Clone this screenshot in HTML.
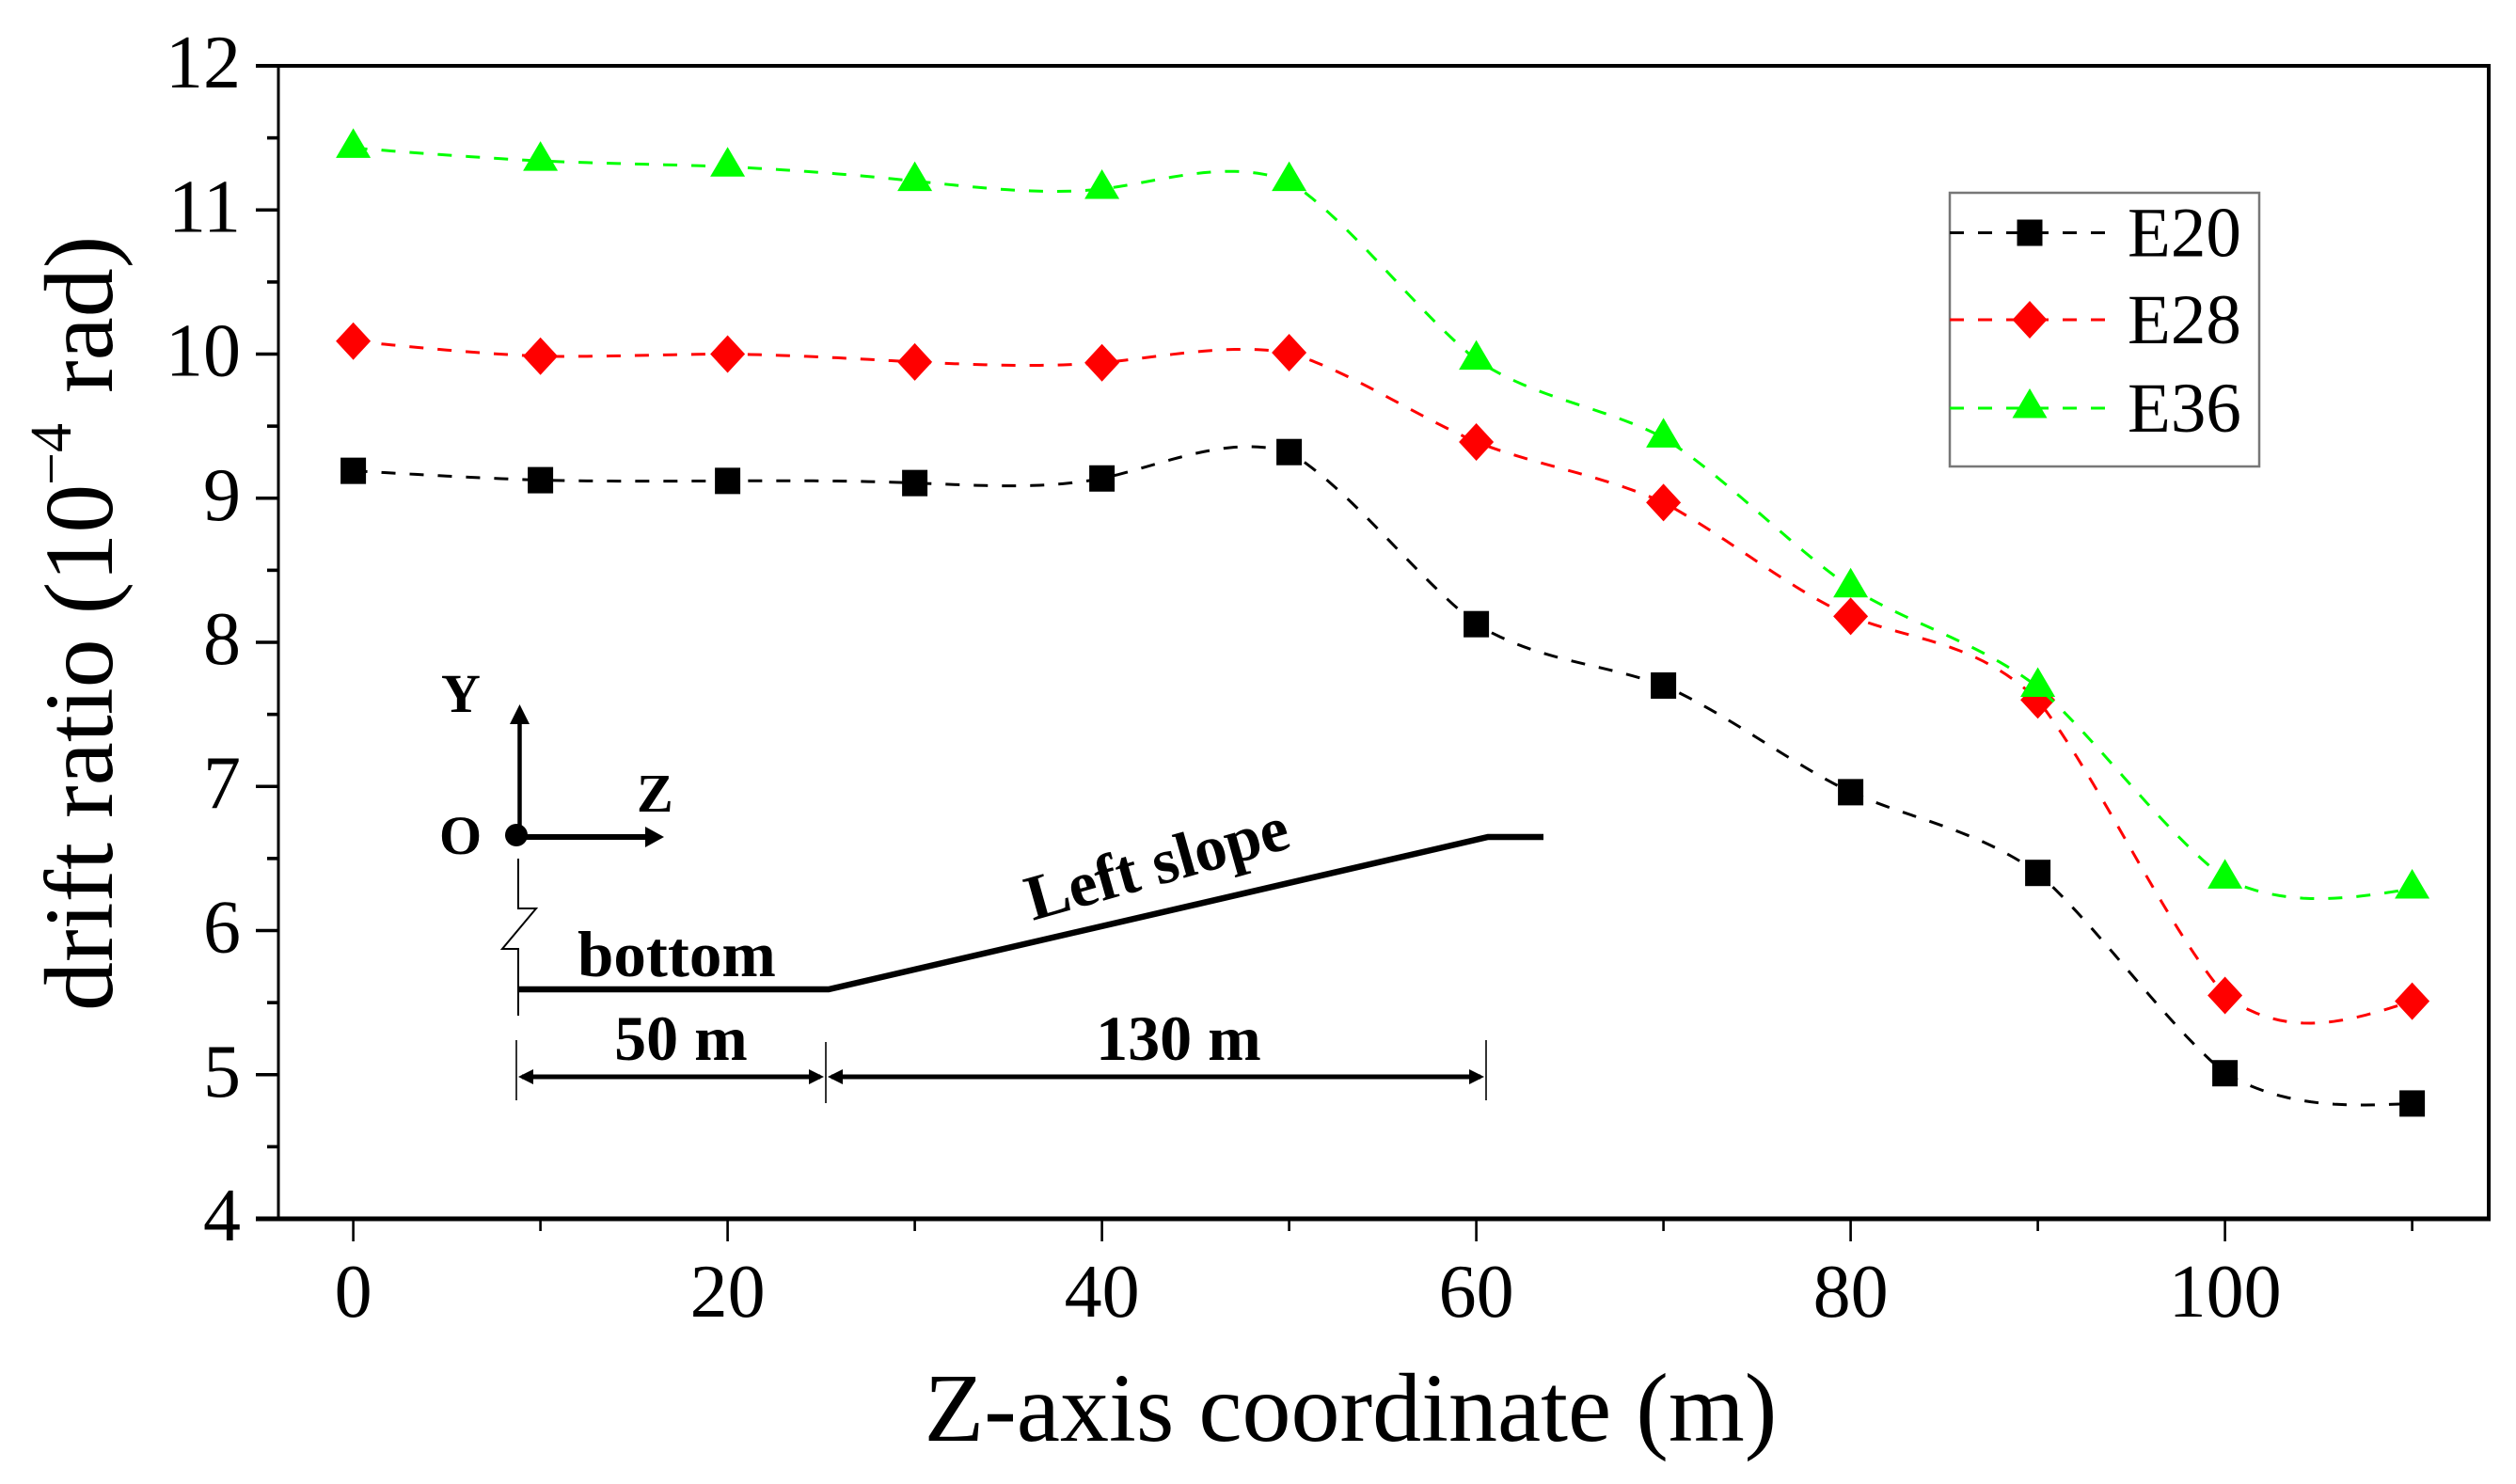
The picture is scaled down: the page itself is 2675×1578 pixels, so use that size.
<!DOCTYPE html>
<html lang="en">
<head>
<meta charset="utf-8">
<title>Drift ratio vs Z-axis coordinate</title>
<style>
html,body{margin:0;padding:0;background:#fff;}
#chart{display:block;width:2675px;height:1578px;font-family:"Liberation Serif",serif;}
</style>
</head>
<body>
<svg id="chart" xmlns="http://www.w3.org/2000/svg" width="2675" height="1578" viewBox="0 0 2675 1578">
  <rect x="0" y="0" width="2675" height="1578" fill="#fff"/>

  <text transform="translate(119,0) rotate(-90)" font-size="104" fill="#000"><tspan x="-1075" y="0">drift ratio (10</tspan><tspan x="-516" y="-44" font-size="62">−4</tspan><tspan x="-418" y="0">rad)</tspan></text>
  <text x="1436" y="1532" font-size="104" text-anchor="middle" fill="#000">Z-axis coordinate (m)</text>

  <g id="series-layer"></g>

  <g fill="#000" stroke="none" font-weight="bold">
    <line x1="552.5" y1="890" x2="552.5" y2="765" stroke="#000" stroke-width="4.5"/>
    <polygon points="552.5,749 542,770 563,770"/>
    <line x1="555" y1="890" x2="690" y2="890" stroke="#000" stroke-width="6"/>
    <polygon points="706,890 686,879 686,901"/>
    <circle cx="549" cy="888" r="12"/>
    <text x="469" y="757" font-size="58">Y</text>
    <text x="677" y="863" font-size="58">Z</text>
    <text x="467" y="908" font-size="58">O</text>
    <polyline points="551,913 551,966 570,966 534,1009 551,1009 551,1080" fill="none" stroke="#000" stroke-width="2"/>
    <polyline points="551,1052 881,1052 1582,890 1641,890" fill="none" stroke="#000" stroke-width="6.5"/>
    <text x="614" y="1038" font-size="69">bottom</text>
    <text transform="translate(1098,979) rotate(-15.8)" font-size="68.5">Left slope</text>
    <text x="724" y="1127" font-size="68" text-anchor="middle">50 m</text>
    <text x="1253" y="1127" font-size="68" text-anchor="middle">130 m</text>
    <line x1="549" y1="1106" x2="549" y2="1170" stroke="#000" stroke-width="1.6"/>
    <line x1="878" y1="1108" x2="878" y2="1173" stroke="#000" stroke-width="1.6"/>
    <line x1="1580" y1="1106" x2="1580" y2="1170" stroke="#000" stroke-width="1.6"/>
    <line x1="555" y1="1145" x2="872" y2="1145" stroke="#000" stroke-width="5"/>
    <line x1="884" y1="1145" x2="1574" y2="1145" stroke="#000" stroke-width="5"/>
    <polygon points="551,1145 567,1137 567,1153"/>
    <polygon points="876,1145 860,1137 860,1153"/>
    <polygon points="880,1145 896,1137 896,1153"/>
    <polygon points="1578,1145 1562,1137 1562,1153"/>
  </g>

  <g id="axes-layer"></g>

  <g id="legend">
    <rect x="2073" y="205" width="329" height="291" fill="#fff" stroke="#777" stroke-width="2.5"/>
  </g>
</svg>
<script>
// ---- chart data ----
const zCoordinates = [0, 10, 20, 30, 40, 50, 60, 70, 80, 90, 100, 110];
const e20Values = [9.19, 9.125, 9.12, 9.105, 9.137, 9.32, 8.126, 7.70, 6.96, 6.40, 5.01, 4.80];
const e28Values = [10.09, 9.985, 10.0, 9.945, 9.94, 10.01, 9.39, 8.97, 8.18, 7.60, 5.55, 5.51];
const e36Values = [11.43, 11.34, 11.30, 11.20, 11.145, 11.20, 9.96, 9.42, 8.38, 7.69, 6.36, 6.29];
const xMajorTicks = [0, 20, 40, 60, 80, 100];
const xMinorTicks = [10, 30, 50, 70, 90, 110];
const yMajorTicks = [4, 5, 6, 7, 8, 9, 10, 11, 12];
const yMinorTicks = [4.5, 5.5, 6.5, 7.5, 8.5, 9.5, 10.5, 11.5];
const seriesNames = ['E20', 'E28', 'E36'];

// ---- scales ----
const SVG_NS = 'http://www.w3.org/2000/svg';
const plotLeft = 296, plotRight = 2646, plotTop = 70, plotBottom = 1296;
const curveTension = 0.7;
function xScale(v) { return 375.6 + v * 19.9; }
function yScale(v) { return plotBottom - (v - 4) * (plotBottom - plotTop) / 8; }

function make(tag, parent, attrs, text) {
  const el = document.createElementNS(SVG_NS, tag);
  for (const k in attrs) el.setAttribute(k, attrs[k]);
  if (text !== undefined) el.textContent = text;
  parent.appendChild(el);
  return el;
}

// cubic spline with damped curvature through the data, sampled for the path
function splinePath(xs, ys) {
  const n = xs.length, h = [], a = [], b = [], c = [], d = [], m = new Array(n).fill(0);
  for (let i = 0; i < n - 1; i++) h[i] = xs[i + 1] - xs[i];
  a[0] = 0; b[0] = 1; c[0] = 0; d[0] = 0;
  for (let i = 1; i < n - 1; i++) {
    a[i] = h[i - 1]; b[i] = 2 * (h[i - 1] + h[i]); c[i] = h[i];
    d[i] = 6 * ((ys[i + 1] - ys[i]) / h[i] - (ys[i] - ys[i - 1]) / h[i - 1]);
  }
  a[n - 1] = 0; b[n - 1] = 1; d[n - 1] = 0;
  for (let i = 1; i < n; i++) {
    const w = a[i] / b[i - 1];
    b[i] -= w * (c[i - 1] || 0);
    d[i] -= w * d[i - 1];
  }
  m[n - 1] = d[n - 1] / b[n - 1];
  for (let i = n - 2; i >= 0; i--) m[i] = (d[i] - (c[i] || 0) * m[i + 1]) / b[i];
  let path = 'M' + xs[0].toFixed(2) + ' ' + ys[0].toFixed(2);
  for (let i = 0; i < n - 1; i++) {
    for (let s = 1; s <= 24; s++) {
      const t = s / 24, A = 1 - t, B = t;
      const x = xs[i] + t * h[i];
      const y = A * ys[i] + B * ys[i + 1] +
        curveTension * ((A * A * A - A) * m[i] + (B * B * B - B) * m[i + 1]) * h[i] * h[i] / 6;
      path += 'L' + x.toFixed(2) + ' ' + y.toFixed(2);
    }
  }
  return path;
}

function drawMarker(parent, kind, cx, cy, color) {
  if (kind === 'E20') {
    return make('rect', parent, { x: cx - 13.5, y: cy - 14, width: 27, height: 28, fill: color });
  }
  if (kind === 'E28') {
    return make('polygon', parent, { points: (cx - 18.5) + ',' + cy + ' ' + cx + ',' + (cy - 20) + ' ' + (cx + 18.5) + ',' + cy + ' ' + cx + ',' + (cy + 20), fill: color });
  }
  return make('polygon', parent, { points: cx + ',' + (cy - 21) + ' ' + (cx + 18.5) + ',' + (cy + 10.5) + ' ' + (cx - 18.5) + ',' + (cy + 10.5), fill: color });
}

// ---- series ----
const seriesLayer = document.getElementById('series-layer');
const seriesColors = { E20: '#000000', E28: '#ff0000', E36: '#00ff00' };
const seriesValues = { E20: e20Values, E28: e28Values, E36: e36Values };

seriesNames.forEach(function (name) {
  const values = seriesValues[name];
  const color = seriesColors[name];
  const group = make('g', seriesLayer, {});
  
  
  const line = make('path', group, {
    d: splinePath(zCoordinates.map(xScale), values.map(yScale)),
    fill: 'none', stroke: color, 'stroke-width': 3, 'stroke-dasharray': '15 15'
  });
  
  
  values.forEach(function (v, i) {
    const mark = drawMarker(group, name, xScale(zCoordinates[i]), yScale(v), color);
    
    
  });
});

// ---- axes ----
const axesLayer = document.getElementById('axes-layer');
const frameLeft = make('line', axesLayer, { x1: plotLeft, y1: plotTop, x2: plotLeft, y2: plotBottom, stroke: '#000', 'stroke-width': 3 });


const frameBottom = make('line', axesLayer, { x1: 272, y1: plotBottom, x2: plotRight + 2, y2: plotBottom, stroke: '#000', 'stroke-width': 5 });


const frameTop = make('line', axesLayer, { x1: 272, y1: plotTop, x2: plotRight + 2, y2: plotTop, stroke: '#000', 'stroke-width': 4 });


const frameRight = make('line', axesLayer, { x1: plotRight, y1: plotTop, x2: plotRight, y2: plotBottom, stroke: '#000', 'stroke-width': 4 });



xMajorTicks.forEach(function (v) {
  const tick = make('line', axesLayer, { x1: xScale(v), y1: plotBottom, x2: xScale(v), y2: plotBottom + 24, stroke: '#000', 'stroke-width': 2.6 });
  
  
  const label = make('text', axesLayer, { x: xScale(v), y: 1400, 'font-size': 80, 'text-anchor': 'middle', fill: '#000' }, String(v));
  
  
});
xMinorTicks.forEach(function (v) {
  const tick = make('line', axesLayer, { x1: xScale(v), y1: plotBottom, x2: xScale(v), y2: plotBottom + 13, stroke: '#000', 'stroke-width': 2.6 });
  
  
});
yMajorTicks.forEach(function (v) {
  const tick = make('line', axesLayer, { x1: 272, y1: yScale(v), x2: plotLeft, y2: yScale(v), stroke: '#000', 'stroke-width': 3.6 });
  
  
  const label = make('text', axesLayer, { x: 256, y: yScale(v) + 23, 'font-size': 80, 'text-anchor': 'end', fill: '#000' }, String(v));
  
  
});
yMinorTicks.forEach(function (v) {
  const tick = make('line', axesLayer, { x1: 284, y1: yScale(v), x2: plotLeft, y2: yScale(v), stroke: '#000', 'stroke-width': 3.6 });
  
  
});

// ---- legend ----
const legend = document.getElementById('legend');
const legendRowY = { E20: 247.5, E28: 340, E36: 434 };
seriesNames.forEach(function (name) {
  const rowY = legendRowY[name];
  const entry = make('g', legend, {});
  
  
  const sample = make('line', entry, { x1: 2073, y1: rowY, x2: 2244, y2: rowY, stroke: seriesColors[name], 'stroke-width': 3, 'stroke-dasharray': '15 15' });
  
  
  const symbol = drawMarker(entry, name, 2158, rowY, seriesColors[name]);
  
  
  const label = make('text', entry, { x: 2262, y: rowY + 25, 'font-size': 75, fill: '#000' }, name);
  
  
});
</script>
</body>
</html>
